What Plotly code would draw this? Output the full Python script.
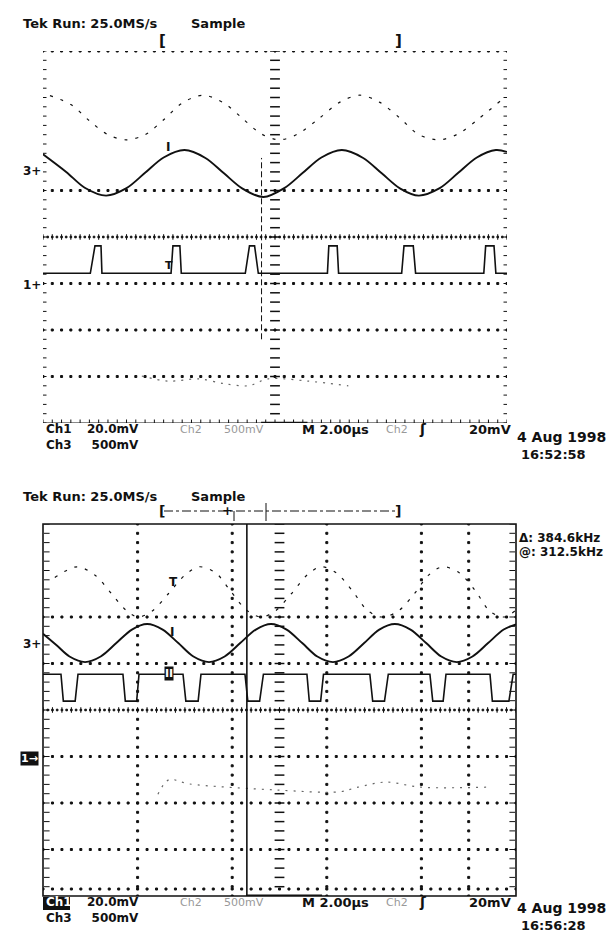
import numpy as np
import plotly.graph_objects as go

W, H = 615, 932

# ---------------- data (in screen divisions: x 0..10, y -4..4) ----------------
# Top screen (16:52:58)
ch1_top_x = [0, 0.5, 0.9, 1.36, 1.8, 2.2, 2.6, 3.05, 3.5, 3.9, 4.3, 4.75, 5.2, 5.6, 6.0, 6.44,
             6.9, 7.3, 7.7, 8.1, 8.55, 8.95, 9.35, 9.76, 10.0]
ch1_top_y = [1.78, 1.40, 1.06, 0.89, 1.05, 1.38, 1.71, 1.87, 1.70, 1.37, 1.04, 0.86, 1.05, 1.38,
             1.71, 1.87, 1.70, 1.37, 1.04, 0.89, 1.05, 1.38, 1.71, 1.87, 1.83]

ch3_top_x = [0, 1.02, 1.12, 1.25, 1.27, 2.76, 2.80, 2.95, 2.98, 4.36, 4.45, 4.56, 4.64,
             6.13, 6.16, 6.34, 6.37, 7.73, 7.78, 7.98, 8.03, 9.50, 9.54, 9.72, 9.76, 10.0]
ch3_top_y = [-0.78, -0.78, -0.19, -0.19, -0.78, -0.78, -0.19, -0.19, -0.78, -0.78, -0.19, -0.19, -0.78,
             -0.78, -0.19, -0.19, -0.78, -0.78, -0.19, -0.19, -0.78, -0.78, -0.19, -0.19, -0.78, -0.78]

ch2_top_x = [0.15, 0.6, 1.0, 1.4, 1.79, 2.2, 2.6, 3.0, 3.45, 3.9, 4.3, 4.7, 5.1, 5.5, 5.95,
             6.4, 6.83, 7.25, 7.7, 8.1, 8.55, 8.95, 9.4, 9.85]
ch2_top_y = [3.04, 2.85, 2.50, 2.20, 2.09, 2.20, 2.52, 2.88, 3.05, 2.88, 2.55, 2.22, 2.09, 2.22,
             2.55, 2.90, 3.05, 2.90, 2.55, 2.20, 2.09, 2.22, 2.55, 2.92]

low_top_x = [2.13, 2.7, 3.35, 3.89, 4.42, 4.86, 5.72, 6.58]
low_top_y = [-2.99, -3.10, -3.05, -3.15, -3.20, -3.05, -3.10, -3.20]

# Bottom screen (16:56:28)
ch1_bot_x = [0, 0.3, 0.56, 0.89, 1.22, 1.55, 1.88, 2.2, 2.53, 2.86, 3.18, 3.51, 3.84, 4.17, 4.5,
             4.82, 5.15, 5.48, 5.8, 6.13, 6.46, 6.79, 7.11, 7.44, 7.77, 8.1, 8.42, 8.75, 9.08,
             9.41, 9.74, 10.0]
ch1_bot_y = [1.64, 1.38, 1.15, 1.03, 1.15, 1.44, 1.73, 1.85, 1.73, 1.44, 1.15, 1.03, 1.15, 1.44,
             1.73, 1.85, 1.73, 1.44, 1.15, 1.03, 1.15, 1.44, 1.73, 1.85, 1.73, 1.44, 1.15, 1.03,
             1.15, 1.44, 1.73, 1.84]

ch3_bot_x = [0, 0.38, 0.43, 0.68, 0.74, 1.69, 1.74, 1.98, 2.03, 2.96, 3.02, 3.28, 3.34,
             4.27, 4.33, 4.58, 4.66, 5.58, 5.63, 5.87, 5.93, 6.91, 6.97, 7.22, 7.30,
             8.18, 8.24, 8.46, 8.52, 9.45, 9.50, 9.85, 9.94, 10.0]
ch3_bot_y = [0.77, 0.77, 0.19, 0.19, 0.77, 0.77, 0.19, 0.19, 0.77, 0.77, 0.19, 0.19, 0.77,
             0.77, 0.19, 0.19, 0.77, 0.77, 0.19, 0.19, 0.77, 0.77, 0.19, 0.19, 0.77,
             0.77, 0.19, 0.19, 0.77, 0.77, 0.19, 0.19, 0.77, 0.77]

ch2_bot_x = [0.25, 0.72, 1.1, 1.45, 1.75, 2.0, 2.3, 2.65, 3.0, 3.3, 3.65, 3.95, 4.3, 4.6, 4.9,
             5.25, 5.6, 5.88, 6.2, 6.55, 6.85, 7.15, 7.5, 7.85, 8.15, 8.45, 8.8, 9.15, 9.45,
             9.75, 10.0]
ch2_bot_y = [2.85, 3.08, 2.90, 2.50, 2.15, 2.00, 2.12, 2.50, 2.90, 3.08, 2.95, 2.58, 2.15, 2.00,
             2.12, 2.50, 2.92, 3.08, 2.95, 2.55, 2.15, 2.00, 2.12, 2.50, 2.90, 3.08, 2.95, 2.55,
             2.12, 2.00, 2.15]

low_bot_x = [2.43, 2.66, 3.09, 4.93, 6.26, 6.66, 7.25, 7.99, 9.37]
low_bot_y = [-1.81, -1.50, -1.59, -1.72, -1.76, -1.66, -1.55, -1.66, -1.66]

cursor_bot_x = 4.31
trigger_top_x = 4.71

# ---------------- figure ----------------
TOP = dict(x0=35, x1=499, y0=43, y1=415)
BOT = dict(x0=35, x1=508, y0=516, y1=888)

fig = go.Figure()
INK = "#111111"
FAINT = "#666666"


def dom(p):
    return [p["x0"] / W, p["x1"] / W], [1 - p["y1"] / H, 1 - p["y0"] / H]


def pts(xs, ys, ax, symbol="square", size=2, color=INK, lw=1):
    fig.add_trace(go.Scatter(
        x=list(xs), y=list(ys), mode="markers", xaxis=ax[0], yaxis=ax[1],
        marker=dict(symbol=symbol, size=size, color=color, line=dict(width=lw, color=color)),
        hoverinfo="skip", showlegend=False))


def line(xs, ys, ax, width=1.6, dash="solid", color=INK, shape="spline"):
    fig.add_trace(go.Scatter(
        x=xs, y=ys, mode="lines", xaxis=ax[0], yaxis=ax[1],
        line=dict(color=color, width=width, dash=dash, shape=shape,
                  smoothing=0.9 if shape == "spline" else None),
        hoverinfo="skip", showlegend=False))


AT = ("x", "y")
AB = ("x2", "y2")
step = np.round(np.arange(0, 10.001, 0.2), 3)
vstep = np.round(np.arange(-4, 4.001, 0.2), 3)
dense = np.round(np.arange(0, 10.001, 0.1), 3)

# ---- top graticule ----
for yv in [4, 1, -1, -2, -3]:
    pts(step, [yv] * len(step), AT, size=2)
pts(dense, [0] * len(dense), AT, size=1.6)
pts(step, [0] * len(step), AT, symbol="line-ns", size=4)
pts(step, [-4] * len(step), AT, symbol="line-ns", size=5)
pts([0] * len(vstep), vstep, AT, symbol="line-ew", size=5)
pts([10] * len(vstep), vstep, AT, symbol="line-ew", size=5)
pts([5] * len(vstep), vstep, AT, symbol="line-ew", size=7, lw=1.5)

# ---- bottom graticule ----
for yv in [2, 1, -1, -2, -3]:
    pts(step, [yv] * len(step), AB, size=2)
for xv in [2, 4, 6, 8, 9]:
    pts([xv] * len(vstep), vstep, AB, size=2)
pts(dense, [0] * len(dense), AB, size=1.6)
pts(step, [0] * len(step), AB, symbol="line-ns", size=4)
pts(step, [-3.85] * len(step), AB, size=2)
pts([0.08] * len(vstep), vstep, AB, symbol="line-ew", size=4)
pts([9.92] * len(vstep), vstep, AB, symbol="line-ew", size=4)
pts([5] * len(vstep), vstep, AB, symbol="line-ew", size=7, lw=1.5)

# ---- waveforms ----
line(ch2_top_x, ch2_top_y, AT, width=1.2, dash="3px,8px")
line(low_top_x, low_top_y, AT, width=1.2, dash="2px,6px", color=FAINT)
line(ch1_top_x, ch1_top_y, AT, width=1.9)
line(ch3_top_x, ch3_top_y, AT, width=1.6, shape="linear")

line(ch2_bot_x, ch2_bot_y, AB, width=1.2, dash="3px,8px")
line(low_bot_x, low_bot_y, AB, width=1.2, dash="2px,6px", color=FAINT)
line(ch1_bot_x, ch1_bot_y, AB, width=1.9)
line(ch3_bot_x, ch3_bot_y, AB, width=1.6, shape="linear")

xd_t, yd_t = dom(TOP)
xd_b, yd_b = dom(BOT)
ax_common = dict(range=[0, 10], showgrid=False, zeroline=False, showticklabels=False,
                 ticks="", showline=False, fixedrange=True)
ay_common = dict(range=[-4, 4], showgrid=False, zeroline=False, showticklabels=False,
                 ticks="", showline=False, fixedrange=True)


def pline(x0, y0, x1, y1, width=1, dash="solid"):
    return dict(type="line", xref="paper", yref="paper", x0=x0 / W, x1=x1 / W,
                y0=1 - y0 / H, y1=1 - y1 / H, line=dict(color=INK, width=width, dash=dash))


shapes = [
    # bottom frame
    dict(type="rect", xref="x2 domain", yref="y2 domain", x0=0, x1=1, y0=0, y1=1,
         line=dict(color=INK, width=1.6)),
    # top bottom edge
    dict(type="line", xref="x", yref="y", x0=0, x1=10, y0=-4, y1=-4, line=dict(color=INK, width=1)),
    dict(type="line", xref="x", yref="y", x0=4.7, x1=5.7, y0=-4, y1=-4, line=dict(color=INK, width=2.5)),
    # top trigger line
    dict(type="line", xref="x", yref="y", x0=trigger_top_x, x1=trigger_top_x, y0=-2.2, y1=1.7,
         line=dict(color=INK, width=1, dash="6px,3px")),
    # bottom cursor
    dict(type="line", xref="x2", yref="y2", x0=cursor_bot_x, x1=cursor_bot_x, y0=-4.1, y1=4,
         line=dict(color=INK, width=1.6)),
    dict(type="line", xref="x2", yref="y2", x0=4.3, x1=5.9, y0=-4, y1=-4, line=dict(color=INK, width=3)),
    # bottom bracket bar
    pline(156, 503, 388, 503, dash="dashdot"),
    pline(258, 495, 258, 513),
    pline(226, 503, 226, 513),
    # inverted "Ch1" box on bottom screen
    dict(type="rect", xref="paper", yref="paper", x0=35 / W, x1=62 / W, y0=1 - 902 / H, y1=1 - 889 / H,
         fillcolor=INK, line=dict(width=0)),
]

annotations = []


def txt(s, px, py, size=13, color=INK, bg=None, anchor="left", bold=True, yanchor="middle", align="left"):
    annotations.append(dict(
        text=f"<b>{s}</b>" if bold else s, x=px / W, y=1 - py / H, xref="paper", yref="paper",
        xanchor=anchor, yanchor=yanchor, showarrow=False, align=align,
        font=dict(family="DejaVu Sans", size=size, color="white" if bg else color),
        bgcolor=bg, borderpad=0))


for off, stamp, ch1_white in [(0, "16:52:58", False), (473, "16:56:28", True)]:
    txt("Tek Run: 25.0MS/s", 14, 15 + off, size=13)
    txt("Sample", 182, 15 + off, size=13)
    txt("3+", 14, 163 + off, size=12)
    ch1 = '<span style="color:white">Ch1</span>' if ch1_white else "Ch1"
    txt(f"{ch1}<br>Ch3", 37, 413 + off, size=12, yanchor="top")
    txt("20.0mV<br>500mV", 132, 413 + off, size=12, yanchor="top", anchor="right", align="right")
    txt("Ch2", 171, 421 + off, size=11, color="#999999", bold=False)
    txt("500mV", 215, 421 + off, size=11, color="#999999", bold=False)
    txt("M 2.00µs", 293, 421 + off, size=13)
    txt("Ch2", 377, 421 + off, size=11, color="#999999", bold=False)
    txt("ʃ", 410, 421 + off, size=14)
    txt("20mV", 460, 421 + off, size=13)
    txt("4 Aug 1998", 508, 429 + off - (2 if off else 0), size=14)
    txt(stamp, 512, 446 + off - (2 if off else 0), size=13)

txt("[", 150, 33, size=15)
txt("]", 386, 33, size=15)
txt("1+", 14, 277, size=12)
txt("I", 157, 139, size=12)
txt("T", 156, 258, size=11)

txt("[", 150, 503, size=14)
txt("]", 386, 503, size=14)
txt("+", 213, 502, size=13)
txt("1→", 12, 750, size=11, bg=INK)
txt("Δ: 384.6kHz", 510, 530, size=12)
txt("@: 312.5kHz", 510, 544, size=12)
txt("T", 160, 574, size=12)
txt("I", 161, 624, size=12)
txt("II", 156, 665, size=11, bg=INK)

fig.update_layout(
    width=W, height=H, margin=dict(l=0, r=0, t=0, b=0),
    paper_bgcolor="white", plot_bgcolor="rgba(0,0,0,0)", showlegend=False,
    xaxis=dict(domain=xd_t, anchor="y", **ax_common),
    yaxis=dict(domain=yd_t, anchor="x", **ay_common),
    xaxis2=dict(domain=xd_b, anchor="y2", **ax_common),
    yaxis2=dict(domain=yd_b, anchor="x2", **ay_common),
    shapes=shapes, annotations=annotations,
)

fig.write_html("out.html")
